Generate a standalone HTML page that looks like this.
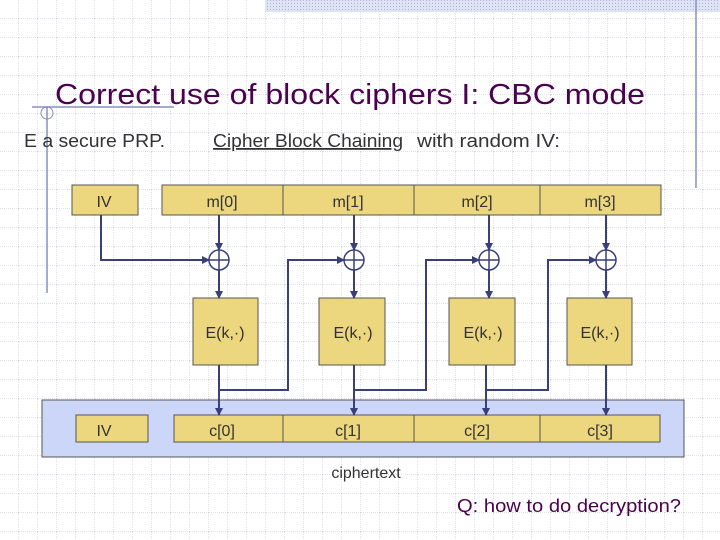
<!DOCTYPE html>
<html><head><style>
body{margin:0}
svg{display:block}
</style></head><body>
<svg width="720" height="540" xmlns="http://www.w3.org/2000/svg" font-family="Liberation Sans, sans-serif">
<defs>
<pattern id="g" width="19" height="19" patternUnits="userSpaceOnUse">
<path d="M19 0V19M0 19H19" stroke="#c0c4d4" stroke-width="1" stroke-dasharray="1,1" fill="none"/>
</pattern>
<pattern id="h" width="3" height="3" patternUnits="userSpaceOnUse">
<rect width="3" height="3" fill="#dfe4f5"/><rect width="1" height="1" fill="#a8b4e0"/>
</pattern>
<marker id="a" markerWidth="8" markerHeight="8" refX="7" refY="4" orient="auto" markerUnits="userSpaceOnUse">
<path d="M0,0L8,4L0,8z" fill="#3a3f7a"/>
</marker>
</defs>
<rect width="720" height="540" fill="#fff"/>
<rect width="720" height="540" fill="url(#g)"/>
<rect x="265" y="0" width="455" height="12" fill="url(#h)"/>
<line x1="696" y1="0" x2="696" y2="188" stroke="#8890c0" stroke-width="1.5"/>
<line x1="47" y1="106" x2="47" y2="293" stroke="#8890c0" stroke-width="1.5"/>
<line x1="32" y1="107" x2="174" y2="107" stroke="#8890c0" stroke-width="1.5"/>
<circle cx="47" cy="113" r="6" fill="none" stroke="#8890c0"/>
<text x="55" y="104" font-size="29" fill="#4b0050" textLength="590" lengthAdjust="spacingAndGlyphs">Correct use of block ciphers I:  CBC mode</text>
<text x="24" y="147" font-size="18" fill="#333" textLength="141" lengthAdjust="spacingAndGlyphs">E a secure PRP.</text>
<text x="213" y="147" font-size="18" fill="#333" text-decoration="underline" textLength="190" lengthAdjust="spacingAndGlyphs">Cipher Block Chaining</text>
<text x="417" y="147" font-size="18" fill="#333" textLength="143" lengthAdjust="spacingAndGlyphs">with random IV:</text>
<g stroke="#555" fill="#ecd67e">
<rect x="72" y="185" width="66" height="30"/>
<rect x="162" y="185" width="499" height="30"/>
<line x1="283" y1="185" x2="283" y2="215"/><line x1="414" y1="185" x2="414" y2="215"/><line x1="540" y1="185" x2="540" y2="215"/>
</g>
<rect x="42" y="400" width="642" height="57" fill="#ccd6f8" stroke="#555"/>
<g stroke="#555" fill="#ecd67e">
<rect x="76" y="415" width="72" height="27"/>
<rect x="174" y="415" width="486" height="27"/>
<line x1="283" y1="415" x2="283" y2="442"/><line x1="414" y1="415" x2="414" y2="442"/><line x1="540" y1="415" x2="540" y2="442"/>
<rect x="193" y="298" width="65" height="67"/>
<rect x="319" y="298" width="66" height="67"/>
<rect x="449" y="298" width="66" height="67"/>
<rect x="567" y="298" width="65" height="67"/>
</g>
<g font-size="16" fill="#333" text-anchor="middle">
<text x="104" y="207">IV</text><text x="222" y="207">m[0]</text><text x="348" y="207">m[1]</text><text x="477" y="207">m[2]</text><text x="600" y="207">m[3]</text>
<text x="104" y="436">IV</text><text x="222" y="436">c[0]</text><text x="348" y="436">c[1]</text><text x="477" y="436">c[2]</text><text x="600" y="436">c[3]</text>
<text x="225" y="338">E(k,·)</text><text x="353" y="338">E(k,·)</text><text x="483" y="338">E(k,·)</text><text x="600" y="338">E(k,·)</text>
<text x="366" y="478">ciphertext</text>
</g>
<text x="457" y="512" font-size="18" fill="#4b0050" textLength="224" lengthAdjust="spacingAndGlyphs">Q: how to do decryption?</text>
<g stroke="#3a3f7a" stroke-width="2" fill="none">
<path d="M101 215V260H209" marker-end="url(#a)"/>
<path d="M219 215V250" marker-end="url(#a)"/><path d="M354 215V250" marker-end="url(#a)"/><path d="M489 215V250" marker-end="url(#a)"/><path d="M606 215V250" marker-end="url(#a)"/>
<path d="M219 270V298" marker-end="url(#a)"/><path d="M354 270V298" marker-end="url(#a)"/><path d="M489 270V298" marker-end="url(#a)"/><path d="M606 270V298" marker-end="url(#a)"/>
<path d="M219 365V415" marker-end="url(#a)"/><path d="M354 365V415" marker-end="url(#a)"/><path d="M486 365V415" marker-end="url(#a)"/><path d="M606 365V415" marker-end="url(#a)"/>
<path d="M219 390H288V260H344" marker-end="url(#a)"/>
<path d="M354 390H426V260H479" marker-end="url(#a)"/>
<path d="M486 390H548V260H596" marker-end="url(#a)"/>
</g>
<g stroke="#3a3f7a" stroke-width="1.5" fill="#fff">
<circle cx="219" cy="260" r="10"/><circle cx="354" cy="260" r="10"/><circle cx="489" cy="260" r="10"/><circle cx="606" cy="260" r="10"/>
<path d="M209 260H229M219 250V270M344 260H364M354 250V270M479 260H499M489 250V270M596 260H616M606 250V270"/>
</g>
</svg>
</body></html>
